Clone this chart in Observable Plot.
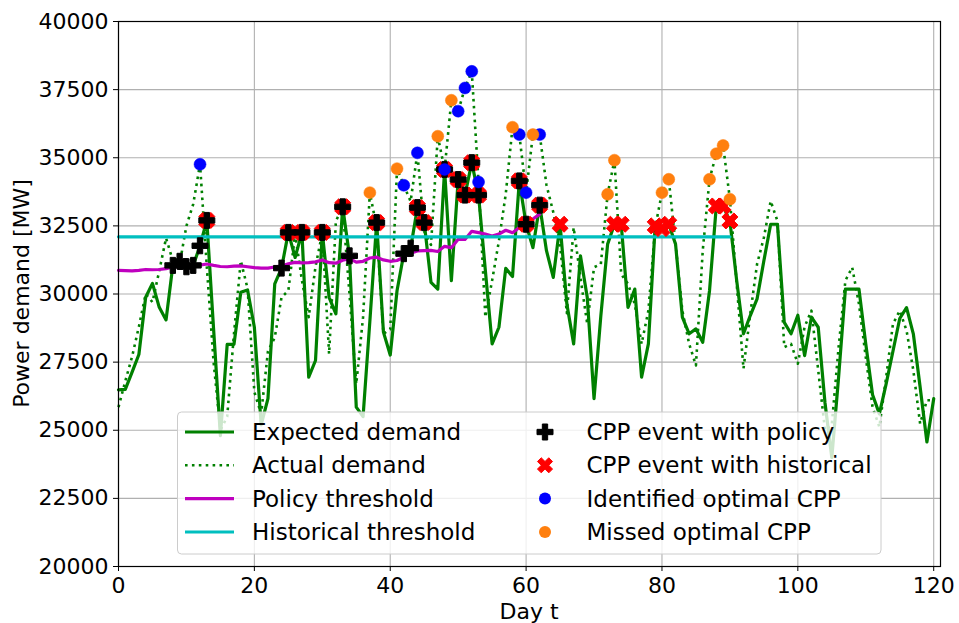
<!DOCTYPE html>
<html><head><meta charset="utf-8">
<script src="https://cdn.jsdelivr.net/npm/d3@7"></script>
<script src="https://cdn.jsdelivr.net/npm/@observablehq/plot@0.6"></script>
<style>
html,body{margin:0;padding:0;background:#fff;}
#wrap{position:relative;width:959px;height:623px;font-family:"DejaVu Sans",sans-serif;}
#wrap svg{display:block;}
#legend{position:absolute;left:0;top:0;pointer-events:none;}
</style></head><body><div id="wrap"></div>
<script>
// Expected demand, days 0..120
const expected = [26480,26500,27130,27780,29880,30390,29510,29050,31050,31200,
31000,31050,31770,32700,28700,24800,28150,28150,30060,30150,
28780,25200,26160,30370,30950,32260,31340,32260,26950,27560,
32260,29880,29270,33200,31400,25850,25500,29000,32620,28600,
27760,30120,31480,31680,33170,32620,30430,30180,34570,30490,
34200,33630,34820,33630,30870,28170,28780,30940,30640,34150,
32560,31700,33260,31590,30610,32560,29630,28170,31400,29880,
26160,29200,31830,32560,32560,29510,30180,26950,28170,32500,
32400,32560,31830,29150,28540,28720,28230,30120,33230,33230,
32680,30490,28540,29210,29820,31220,32560,32560,28960,28540,
29220,27740,29150,28780,26000,24000,26950,30180,30180,30180,
28170,26300,25600,26700,27900,29100,29500,28540,26590,24570,
26160];
// Actual demand, days 0..120
const actual = [25850,26800,27700,28800,30000,29700,30850,32050,31220,31100,
32500,33300,34760,31000,27500,25000,25500,28540,31220,30200,
26400,25600,27900,28400,29880,30120,32200,30500,29150,31000,
32260,27800,32680,33170,30000,26700,29150,33720,32440,28540,
28700,34600,33990,33400,35180,32300,31800,35790,34570,37110,
36710,37560,38170,34110,29150,30500,31950,33660,36120,35850,
33720,35850,35850,34000,33000,31800,29300,32440,30600,28900,
30980,31100,33660,34910,30730,30370,29630,28170,29390,32440,
33720,34210,31830,29390,28170,27380,31590,34210,35150,35450,
33480,30370,27260,29270,31100,32070,33410,32680,28050,28170,
27440,28800,29390,27200,25000,25200,28050,30490,30980,29630,
27680,25850,25120,26950,28900,29390,28660,27200,25240,26100,
26100];
// Policy threshold, days 0..62
const policyThreshold = [30870,30860,30850,30870,30900,30890,30900,30930,30990,31000,
31030,31000,31060,31100,31050,31010,31000,31020,31030,31000,
30970,30950,30950,30990,31030,31110,31160,31140,31150,31180,
31250,31150,31130,31240,31300,31170,31200,31320,31350,31250,
31200,31230,31350,31500,31580,31590,31600,31560,31750,31700,
32010,32000,32300,32250,32200,32130,32200,32340,32250,32440,
32600,32750,32930];
// Historical threshold (constant), start/end days
const historicalDays = [0, 90];
const historicalValues = [32100, 32100];
// Event days
const policyEventDays = [8,9,10,11,12,13,24,25,27,30,33,34,38,42,43,44,45,48,50,51,52,53,59,60,62];
const historicalEventDays = [13,25,27,30,33,38,44,45,48,50,51,52,53,59,60,62,65,73,74,79,80,81,88,89,90];
const identifiedDays = [12,42,44,48,50,51,52,53,59,60,62];
const missedDays = [37,41,47,49,58,61,72,73,80,81,87,88,89,90];
// Ticks
const xTicks = [0,20,40,60,80,100,120];
const yTicks = [20000,22500,25000,27500,30000,32500,35000,37500,40000];

const GREEN = "#008000", MAGENTA = "#bf00bf", CYAN = "#00bfbf", ORANGE = "#ff7f0e";

function plusPts(h) {
  const a = h / 3;
  return [[-a,-h],[a,-h],[a,-a],[h,-a],[h,a],[a,a],[a,h],[-a,h],[-a,a],[-h,a],[-h,-a],[-a,-a]];
}
function drawPts(ctx, pts, rot) {
  const c = Math.cos(rot), s = Math.sin(rot);
  pts.forEach(([x, y], i) => {
    const X = x * c - y * s, Y = x * s + y * c;
    if (i === 0) ctx.moveTo(X, Y); else ctx.lineTo(X, Y);
  });
  ctx.closePath();
}
const plusSymbol = {draw(ctx, size) { drawPts(ctx, plusPts(Math.sqrt(size / Math.PI)), 0); }};
const xSymbol = {draw(ctx, size) { drawPts(ctx, plusPts(Math.sqrt(size / Math.PI)), Math.PI / 4); }};

const chart = Plot.plot({
  width: 959, height: 623,
  marginLeft: 118, marginRight: 19, marginTop: 21, marginBottom: 57,
  x: {domain: [0, 121]},
  y: {domain: [20000, 40000]},
  style: {fontFamily: "DejaVu Sans", fontSize: "22px", background: "white", color: "black", overflow: "visible"},
  marks: [
    Plot.gridX(xTicks, {stroke: "#b0b0b0", strokeOpacity: 1, strokeWidth: 1.1}),
    Plot.gridY(yTicks, {stroke: "#b0b0b0", strokeOpacity: 1, strokeWidth: 1.1}),
    Plot.axisX({ticks: xTicks, tickSize: 5, tickPadding: 6, label: null, tickFormat: d => String(d)}),
    Plot.axisY({ticks: yTicks, tickSize: 5, tickPadding: 5, label: null, tickFormat: d => String(d)}),
    Plot.line(expected, {x: (d, i) => i, y: d => d, stroke: GREEN, strokeWidth: 3.2, strokeLinejoin: "round"}),
    Plot.line(actual, {x: (d, i) => i, y: d => d, stroke: GREEN, strokeWidth: 2.6, strokeDasharray: "2.6,4.3", strokeLinecap: "butt"}),
    Plot.line(policyThreshold, {x: (d, i) => i, y: d => d, stroke: MAGENTA, strokeWidth: 3.2}),
    Plot.line(historicalValues, {x: (d, i) => historicalDays[i], y: d => d, stroke: CYAN, strokeWidth: 3.2}),
    Plot.dot(historicalEventDays, {x: d => d, y: d => expected[d], symbol: xSymbol, r: 8.5, fill: "red", stroke: "red", strokeWidth: 1}),
    Plot.dot(policyEventDays, {x: d => d, y: d => expected[d], symbol: plusSymbol, r: 8, fill: "black", stroke: "black", strokeWidth: 1}),
    Plot.dot(identifiedDays, {x: d => d, y: d => actual[d], r: 6, fill: "blue", stroke: "blue", strokeWidth: 0.5}),
    Plot.dot(missedDays, {x: d => d, y: d => actual[d], r: 6, fill: ORANGE, stroke: ORANGE, strokeWidth: 0.5}),
    Plot.frame({stroke: "black", strokeWidth: 1.2})
  ]
});
document.getElementById("wrap").appendChild(chart);

// Axis titles
const svg = d3.select(chart);
svg.append("text").attr("x", 529).attr("y", 619).attr("text-anchor", "middle")
  .attr("font-size", 22).attr("fill", "black").text("Day t");
svg.append("text").attr("transform", "translate(29,293.5) rotate(-90)").attr("text-anchor", "middle")
  .attr("font-size", 22).attr("fill", "black").text("Power demand [MW]");

// Legend overlay
const lg = d3.select("#wrap").append("svg").attr("id", "legend").attr("width", 959).attr("height", 623)
  .style("font-family", "DejaVu Sans").style("font-size", "23px");
lg.append("rect").attr("x", 177.5).attr("y", 412).attr("width", 703.5).attr("height", 142).attr("rx", 4)
  .attr("fill", "white").attr("fill-opacity", 0.8).attr("stroke", "#cccccc").attr("stroke-width", 1);
const rowY = [432, 465.3, 498.6, 532];
const leftItems = [
  {label: "Expected demand", stroke: GREEN, w: 3.2, dash: null},
  {label: "Actual demand", stroke: GREEN, w: 2.6, dash: "2.6,4.3"},
  {label: "Policy threshold", stroke: MAGENTA, w: 3.2, dash: null},
  {label: "Historical threshold", stroke: CYAN, w: 3.2, dash: null}
];
leftItems.forEach((it, i) => {
  const l = lg.append("line").attr("x1", 185).attr("x2", 234).attr("y1", rowY[i]).attr("y2", rowY[i])
    .attr("stroke", it.stroke).attr("stroke-width", it.w);
  if (it.dash) l.attr("stroke-dasharray", it.dash);
  lg.append("text").attr("x", 252).attr("y", rowY[i] + 8).attr("fill", "black").text(it.label);
});
const rightItems = [
  {label: "CPP event with policy", kind: "plus", color: "black"},
  {label: "CPP event with historical", kind: "x", color: "red"},
  {label: "Identified optimal CPP", kind: "dot", color: "blue"},
  {label: "Missed optimal CPP", kind: "dot", color: ORANGE}
];
rightItems.forEach((it, i) => {
  const cx = 545, cy = rowY[i];
  if (it.kind === "dot") {
    lg.append("circle").attr("cx", cx).attr("cy", cy).attr("r", 6).attr("fill", it.color);
  } else {
    const p = d3.path();
    (it.kind === "plus" ? plusSymbol : xSymbol).draw(p, 64 * Math.PI);
    lg.append("path").attr("d", p.toString()).attr("transform", `translate(${cx},${cy})`)
      .attr("fill", it.color).attr("stroke", it.color).attr("stroke-width", 1);
  }
  lg.append("text").attr("x", 586.5).attr("y", cy + 8).attr("fill", "black").text(it.label);
});
</script>
</body></html>
